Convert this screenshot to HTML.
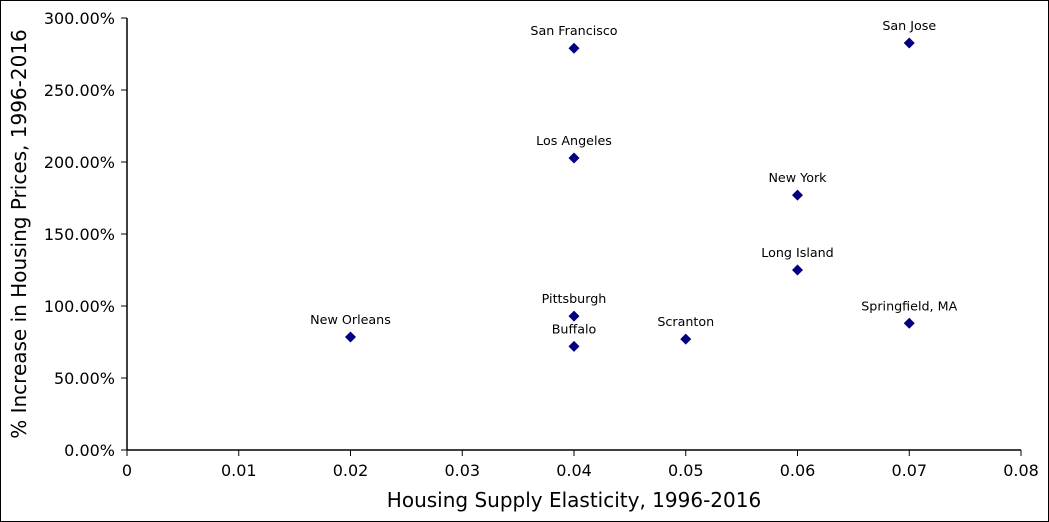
<!DOCTYPE html>
<html><head><meta charset="utf-8"><style>
html,body{margin:0;padding:0;background:#fff}
svg{display:block;font-family:"DejaVu Sans","Liberation Sans",sans-serif}
</style></head><body>
<svg id="chart" width="1049" height="522" viewBox="0 0 1049 522">
<rect x="0.5" y="0.5" width="1048" height="521" fill="#fff" stroke="#000"/>
<g id="axes"></g>
<g id="points"></g>
<text x="574" y="507" font-size="20" text-anchor="middle">Housing Supply Elasticity, 1996-2016</text>
<text transform="translate(26,234) rotate(-90)" font-size="20" text-anchor="middle">% Increase in Housing Prices, 1996-2016</text>
</svg>
<script>
const cities = ["San Francisco","San Jose","Los Angeles","New York","Long Island","Pittsburgh","Springfield, MA","New Orleans","Scranton","Buffalo"];
const elasticity = [0.04,0.07,0.04,0.06,0.06,0.04,0.07,0.02,0.05,0.04];
const priceIncrease = [279,282.6,202.8,177,125,93,88,78.5,77,72];
const xTicks = [0,0.01,0.02,0.03,0.04,0.05,0.06,0.07,0.08];
const xTickLabels = ["0","0.01","0.02","0.03","0.04","0.05","0.06","0.07","0.08"];
const yTicks = [0,50,100,150,200,250,300];
const yTickLabels = ["0.00%","50.00%","100.00%","150.00%","200.00%","250.00%","300.00%"];

const NS="http://www.w3.org/2000/svg";
const X0=127,X1=1021,Y0=450,Y1=18;
const xs=v=>X0+(v-0)/(0.08)*(X1-X0);
const ys=v=>Y0-(v/300)*(Y0-Y1);
function mk(t,a,p){const e=document.createElementNS(NS,t);for(const k in a)e.setAttribute(k,a[k]);p.appendChild(e);return e;}
const ax=document.getElementById('axes');
let l=mk('line',{x1:X0,y1:Y1,x2:X0,y2:Y0,stroke:'#000','stroke-width':1.5},ax);


l=mk('line',{x1:X0,y1:Y0,x2:X1,y2:Y0,stroke:'#000','stroke-width':1.5},ax);


xTicks.forEach((v,i)=>{const x=xs(v);
 const t=mk('line',{x1:x,y1:Y0,x2:x,y2:Y0+6,stroke:'#000','stroke-width':1},ax);
 
 
 const tx=mk('text',{x:x,y:Y0+26,'font-size':16,'text-anchor':'middle'},ax);tx.textContent=xTickLabels[i];
 
 
});
yTicks.forEach((v,i)=>{const y=ys(v);
 const t=mk('line',{x1:X0-6,y1:y,x2:X0,y2:y,stroke:'#000','stroke-width':1},ax);
 
 
 const tx=mk('text',{x:X0-12,y:y+6,'font-size':16,'text-anchor':'end'},ax);tx.textContent=yTickLabels[i];
 
 
});
const pg=document.getElementById('points');
cities.forEach((c,i)=>{const x=xs(elasticity[i]),y=ys(priceIncrease[i]);
 const p=mk('path',{d:`M${x},${y-5.5}L${x+5.5},${y}L${x},${y+5.5}L${x-5.5},${y}Z`,fill:'#000080'},pg);
 
 
 const t=mk('text',{x:x,y:y-13,'font-size':12.7,'text-anchor':'middle'},pg);t.textContent=c;
 
 
});
</script>
</body></html>
